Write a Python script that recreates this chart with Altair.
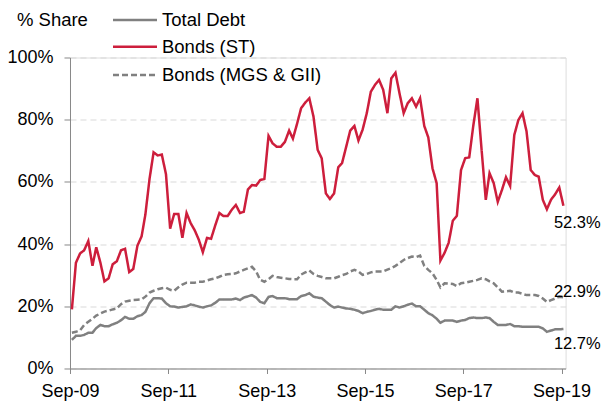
import altair as alt
import pandas as pd

# ---------------- data ----------------
months = pd.date_range("2009-09-01", periods=121, freq="MS") + pd.Timedelta(days=14)
dates = [d.strftime("%Y-%m-%d") for d in months]

series_names = ["Total Debt", "Bonds (ST)", "Bonds (MGS & GII)"]
series_colors = ["#808080", "#CD1E3C", "#808080"]

total_debt = [
    9.2, 10.5, 10.5, 10.8, 11.5, 11.5, 13.0, 14.0, 13.6, 13.6,
    14.2, 14.7, 15.5, 16.6, 16.0, 16.0, 16.8, 17.2, 18.2, 21.0,
    22.6, 22.6, 22.5, 21.0, 20.0, 19.9, 19.6, 19.8, 20.0, 20.6,
    20.3, 19.9, 19.6, 20.0, 20.3, 21.1, 22.2, 22.2, 22.2, 22.2,
    22.5, 22.0, 22.8, 23.2, 23.6, 22.8, 21.4, 21.0, 23.0, 23.3,
    22.6, 22.6, 22.6, 22.3, 22.3, 22.3, 23.3, 23.6, 24.2, 23.1,
    22.8, 22.6, 21.5, 20.4, 19.6, 19.9, 19.6, 19.3, 19.2, 18.9,
    18.5, 17.8, 18.2, 18.5, 18.9, 19.2, 18.9, 18.9, 18.9, 20.0,
    19.6, 20.0, 20.5, 20.9, 20.0, 20.0, 18.9, 17.8, 17.1, 16.0,
    14.7, 15.4, 15.4, 15.4, 15.0, 15.4, 15.6, 16.2, 16.4, 16.2,
    16.2, 16.4, 16.2, 15.0, 14.0, 14.0, 14.0, 14.3, 13.6, 13.6,
    13.4, 13.4, 13.4, 13.4, 13.4, 12.9, 11.8, 12.2, 12.6, 12.6,
    12.7,
]

bonds_st = [
    19.0, 34.0, 37.0, 38.0, 41.0, 33.0, 39.0, 34.0, 28.0, 29.0,
    33.5, 34.5, 38.0, 38.5, 31.0, 32.0, 39.5, 42.5, 49.5, 61.0,
    69.5, 68.5, 68.8, 62.5, 45.0, 49.7, 49.7, 42.0, 50.0, 46.7,
    44.5, 41.4, 37.4, 42.0, 41.7, 46.0, 50.0, 49.0, 49.0, 51.0,
    52.6, 50.0, 50.4, 57.6, 59.0, 58.8, 60.6, 60.9, 74.8, 72.4,
    71.3, 71.3, 72.9, 76.5, 73.9, 78.7, 83.7, 85.5, 86.9, 81.0,
    70.3, 67.6, 56.3, 54.5, 56.3, 64.7, 66.0, 71.3, 76.5, 78.0,
    73.3, 76.8, 82.1, 89.0, 91.2, 92.8, 89.6, 82.1, 93.3, 95.1,
    88.5, 82.1, 85.3, 86.9, 84.2, 86.9, 78.0, 74.3, 64.4, 59.6,
    34.7, 37.2, 40.4, 47.5, 49.1, 63.8, 67.6, 67.9, 78.3, 86.9,
    70.3, 54.2, 62.8, 59.6, 53.6, 57.4, 61.5, 58.7, 75.1, 79.9,
    82.1, 76.2, 63.8, 62.2, 61.7, 54.2, 51.2, 54.3, 56.0, 58.2,
    52.3,
]

bonds_mgs = [
    11.5, 11.8, 12.3, 14.0, 15.0, 16.0, 17.0, 17.7, 18.3, 18.6,
    19.0, 19.3, 20.7, 21.5, 21.8, 22.0, 22.1, 22.2, 23.1, 24.4,
    25.0, 25.5, 25.8, 26.0, 25.3, 25.0, 26.1, 27.0, 27.6, 27.6,
    27.6, 27.9, 27.9, 28.3, 28.7, 29.0, 29.5, 30.1, 30.3, 30.4,
    30.6, 31.2, 31.7, 32.2, 32.7, 31.2, 28.5, 27.9, 28.7, 29.8,
    29.4, 29.2, 29.0, 28.8, 28.7, 28.7, 30.2, 30.9, 31.5, 30.4,
    29.8, 29.4, 29.0, 29.0, 29.0, 29.5, 30.0, 30.4, 31.2, 31.7,
    31.2, 30.1, 30.4, 30.9, 31.2, 31.2, 31.2, 31.8, 32.3, 33.0,
    33.9, 34.9, 35.5, 36.0, 35.8, 36.3, 33.0, 31.7, 30.6, 28.5,
    26.1, 27.4, 27.3, 27.2, 26.5, 27.4, 27.6, 27.9, 28.2, 28.5,
    29.0, 28.7, 28.0, 27.4, 26.1, 24.7, 24.8, 25.0, 24.4, 24.4,
    24.0, 23.6, 23.6, 23.6, 23.3, 22.5, 21.4, 22.0, 22.5, 23.1,
    22.9,
]

end_labels = ["12.7%", "52.3%", "22.9%"]
tick_years = [2009, 2011, 2013, 2015, 2017, 2019]
y_ticks = [0, 20, 40, 60, 80, 100]
y_title = "% Share"

# ---------------- tables ----------------
values_by_series = [total_debt, bonds_st, bonds_mgs]
rows = []
for name, vals in zip(series_names, values_by_series):
    for d, v in zip(dates, vals):
        rows.append({"date": d, "series": name, "value": v})
df = pd.DataFrame(rows)

end_df = pd.DataFrame({
    "date": [dates[-1]] * 3,
    "series": series_names,
    "value": [vals[-1] for vals in values_by_series],
    "label": end_labels,
})

FONT = "Liberation Sans"

x_enc = alt.X(
    "date:T",
    scale=alt.Scale(
        type="utc",
        domain=[alt.DateTime(year=2009, month=9, date=1, utc=True),
                alt.DateTime(year=2019, month=10, date=1, utc=True)],
    ),
    axis=alt.Axis(
        values=[alt.DateTime(year=y, month=9, date=1, utc=True) for y in tick_years],
        format="%b-%y",
        title=None,
        grid=False,
        labelFontSize=18,
        labelFlush=False,
        labelOverlap=False,
        tickSize=5,
        labelPadding=9.5,
    ),
)
y_enc = alt.Y(
    "value:Q",
    scale=alt.Scale(domain=[0, 100]),
    axis=alt.Axis(
        values=y_ticks,
        labelExpr="datum.value + '%'",
        title=None,
        grid=True,
        gridColor="#d9d9d9",
        gridDash=[6, 4],
        gridWidth=1,
        labelFontSize=18,
        tickSize=6,
        labelPadding=11,
    ),
)

lines = alt.Chart(df).mark_line(strokeWidth=2.5).encode(
    x=x_enc,
    y=y_enc,
    color=alt.Color("series:N", scale=alt.Scale(domain=series_names, range=series_colors), legend=None),
    strokeDash=alt.StrokeDash("series:N",
                              scale=alt.Scale(domain=series_names, range=[[1, 0], [1, 0], [6, 3]]),
                              legend=None),
)

label_offsets = {"Total Debt": 14.5, "Bonds (ST)": 17.5, "Bonds (MGS & GII)": -5}
label_layers = []
for name in series_names:
    label_layers.append(
        alt.Chart(end_df[end_df["series"] == name]).mark_text(
            align="left", baseline="middle", dx=-9.5, dy=label_offsets[name],
            fontSize=16.5, font=FONT, color="#000000",
        ).encode(x=alt.X("date:T"), y=alt.Y("value:Q"), text="label:N")
    )

# manual legend + title
one = pd.DataFrame({"k": [0]})
legend_y = [-37.5, -10.8, 17.5]
legend_dash = [[1, 0], [1, 0], [6, 3]]
legend_layers = []
for name, col, ly, dash in zip(series_names, series_colors, legend_y, legend_dash):
    legend_layers.append(
        alt.Chart(one).mark_rule(color=col, strokeWidth=2.5, strokeDash=dash).encode(
            x=alt.value(43), x2=alt.value(87), y=alt.value(ly)
        )
    )
    legend_layers.append(
        alt.Chart(one).mark_text(align="left", baseline="middle", fontSize=18.5, font=FONT,
                                 color="#000000", text=name).encode(
            x=alt.value(92), y=alt.value(ly)
        )
    )
title_layer = alt.Chart(one).mark_text(align="left", baseline="middle", fontSize=18.5, font=FONT,
                                       color="#000000", text=y_title).encode(
    x=alt.value(-53), y=alt.value(-37.5)
)

chart = alt.layer(lines, *label_layers, *legend_layers, title_layer).properties(
    width=495.6,
    height=311,
    padding={"left": 62, "top": 49.5, "right": 36, "bottom": 33},
    autosize=alt.AutoSizeParams(type="none"),
).configure_view(stroke=None).configure_axis(
    labelFont=FONT,
    labelColor="#000000",
    domainColor="#333333",
    tickColor="#333333",
    domainWidth=1,
    tickWidth=1,
).configure(background="white")

chart.save("out.html", embed_options={"renderer": "svg", "actions": False})
